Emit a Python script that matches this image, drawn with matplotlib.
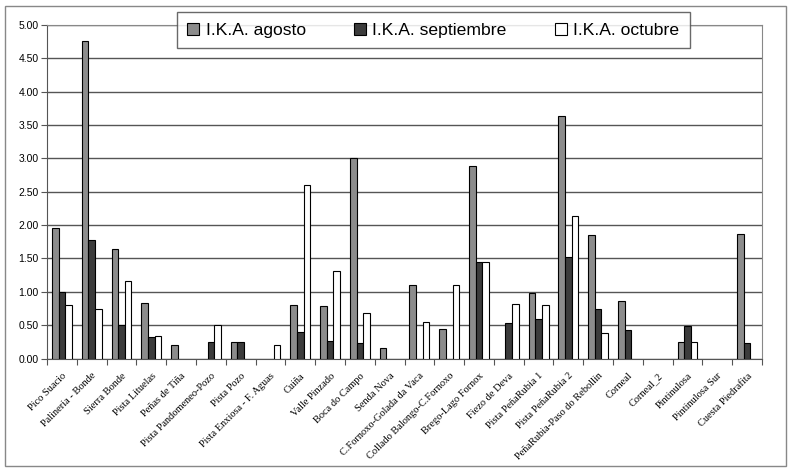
import numpy as np
import matplotlib.pyplot as plt
from matplotlib.patches import Rectangle

# tramos muestreados
tramos = ['Pico Suacio', 'Palineria - Bonde', 'Sierra Bonde', 'Pista Lituelas',
          'Peñas de Tiña', 'Pista Pandomeneo-Pozo', 'Pista Pozo',
          'Pista Enxiosa - F. Aguas', 'Cuiña', 'Valle Pinzado', 'Boca do Campo',
          'Senda Nova', 'C.Fornoxo-Golada da Vaca', 'Collado Balongo-C.Fornoxo',
          'Brego-Lago Fornox', 'Fiezo de Deva', 'Pista PeñaRubia 1',
          'Pista PeñaRubia 2', 'PeñaRubia-Paso do Rebollin', 'Corneal',
          'Corneal_2', 'Pintinulosa', 'Pintinulosa Sur', 'Cuesta Piedrafita']

ika_agosto = [1.96, 4.75, 1.64, 0.83, 0.21, 0.0, 0.25, 0.0, 0.81, 0.79, 3.01, 0.16,
              1.11, 0.44, 2.89, 0.0, 0.99, 3.63, 1.85, 0.86, 0.0, 0.25, 0.0, 1.86]
ika_septiembre = [1.00, 1.77, 0.50, 0.33, 0.0, 0.25, 0.25, 0.0, 0.40, 0.27, 0.23, 0.0,
                  0.0, 0.0, 1.45, 0.54, 0.60, 1.52, 0.74, 0.43, 0.0, 0.49, 0.0, 0.23]
ika_octubre = [0.80, 0.75, 1.16, 0.34, 0.0, 0.50, 0.0, 0.21, 2.60, 1.32, 0.69, 0.0,
               0.55, 1.11, 1.45, 0.82, 0.80, 2.13, 0.38, 0.0, 0.0, 0.25, 0.0, 0.0]

series = [('I.K.A. agosto', ika_agosto, '#8c8c8c'),
          ('I.K.A. septiembre', ika_septiembre, '#3c3c3c'),
          ('I.K.A. octubre', ika_octubre, '#ffffff')]

fig = plt.figure(figsize=(7.89, 4.68), dpi=100)
ax = fig.add_axes([0.0596, 0.2336, 0.9062, 0.7136])

x = np.arange(len(tramos))
w = 1 / 4.5
for i, (nombre, vals, col) in enumerate(series):
    # barras a cero no se dibujan
    v = np.array(vals)
    m = v > 0
    ax.bar(x[m] + (i - 1) * w, v[m], width=w, color=col, edgecolor='black',
           linewidth=0.8, label=nombre, zorder=3)

ax.set_xlim(-0.5, len(tramos) - 0.5)
ax.set_ylim(0, 5)
ax.set_yticks(np.arange(0, 5.01, 0.5))
ax.set_yticklabels(['%.2f' % t for t in np.arange(0, 5.01, 0.5)],
                   fontsize=7.5, family='Liberation Sans')
ax.yaxis.grid(True, color='#555555', linewidth=1, zorder=0)
ax.tick_params(axis='y', length=4, width=0.8, color='#555555', pad=2)

ax.set_xticks(x)
ax.set_xticklabels(tramos, rotation=45, ha='right', rotation_mode='anchor',
                   fontsize=7.5, family='Liberation Serif')
ax.set_xticks(np.arange(-0.5, len(tramos)), minor=True)
ax.tick_params(axis='x', which='major', length=0, pad=9)
ax.tick_params(axis='x', which='minor', length=4, width=0.8, color='#555555')

for lado in ['top', 'right']:
    ax.spines[lado].set_color('#888888')
ax.spines['left'].set_color('#555555')
ax.spines['bottom'].set_color('#555555')

fig.legend(loc='upper left', bbox_to_anchor=(0.224, 0.974), ncol=3,
           frameon=True, fancybox=False, edgecolor='#444444', borderaxespad=0,
           prop={'family': 'Liberation Sans', 'size': 12.6},
           handlelength=0.7, handleheight=0.7, handletextpad=0.35,
           columnspacing=2.75, borderpad=0.6)

# marco exterior del grafico
fig.patches.append(Rectangle((0.006, 0.004), 0.99, 0.983, transform=fig.transFigure,
                             fill=False, edgecolor='#888888', linewidth=1))

fig.savefig('out.png', dpi=100)
